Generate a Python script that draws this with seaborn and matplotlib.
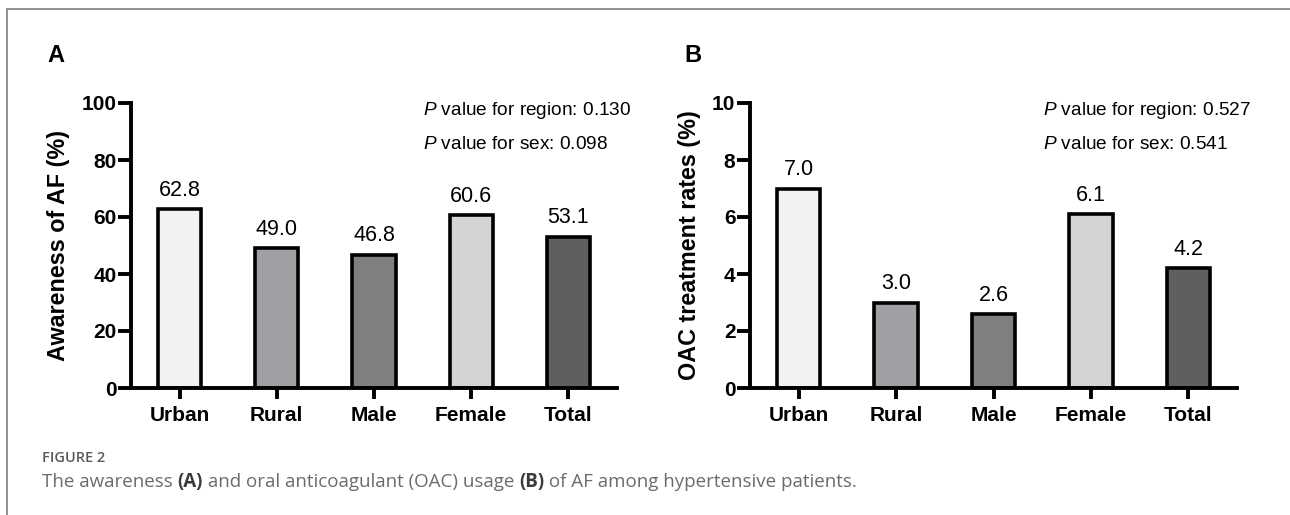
import matplotlib
matplotlib.use("Agg")
import matplotlib.pyplot as plt
import seaborn as sns
from matplotlib.lines import Line2D

categories = ["Urban", "Rural", "Male", "Female", "Total"]
awareness = [62.8, 49.0, 46.8, 60.6, 53.1]
oac_rates = [7.0, 3.0, 2.6, 6.1, 4.2]
bar_colors = ["#f2f2f2", "#a0a0a4", "#808080", "#d4d4d4", "#5f5f5f"]
p_text_a = ["0.130", "0.098"]
p_text_b = ["0.527", "0.541"]

sns.set_theme(style="ticks")
plt.rcParams["font.family"] = ["Liberation Sans", "DejaVu Sans"]
plt.rcParams["mathtext.fontset"] = "custom"
plt.rcParams["mathtext.it"] = "Liberation Sans:italic"
plt.rcParams["mathtext.rm"] = "Liberation Sans"

W, H = 1290, 515
fig = plt.figure(figsize=(W / 100, H / 100), dpi=100)
fig.patch.set_facecolor("white")


def fx(px):
    return px / W


def fy(py):
    return 1 - py / H


panels = [
    dict(left=131, right=617, values=awareness, ymax=100, yticks=[0, 20, 40, 60, 80, 100],
         ylabel="Awareness of AF (%)", letter="A", letter_x=47, ylab_x=59, ptxt=p_text_a),
    dict(left=750, right=1237, values=oac_rates, ymax=10, yticks=[0, 2, 4, 6, 8, 10],
         ylabel="OAC treatment rates (%)", letter="B", letter_x=684, ylab_x=690, ptxt=p_text_b),
]

top_px, bot_px = 103, 388
for p in panels:
    ax = fig.add_axes([fx(p["left"]), fy(bot_px), (p["right"] - p["left"]) / W, (bot_px - top_px) / H])
    ax.set_facecolor("white")
    sns.barplot(x=categories, y=p["values"], hue=categories, palette=bar_colors, legend=False,
                edgecolor="black", linewidth=2.6, width=0.445, saturation=1, ax=ax)
    ax.set_xlim(-0.5, 4.5)
    ax.set_ylim(0, p["ymax"])
    ax.set_yticks(p["yticks"])
    ax.set_yticklabels([str(t) for t in p["yticks"]], fontsize=15, fontweight="bold")
    ax.set_xticks(range(len(categories)))
    ax.set_xticklabels(categories, fontsize=15, fontweight="bold")
    for s in ["top", "right"]:
        ax.spines[s].set_visible(False)
    for s in ["left", "bottom"]:
        ax.spines[s].set_linewidth(2.8)
        ax.spines[s].set_color("black")
    ax.tick_params(axis="y", length=9.5, width=2.8, color="black", labelcolor="black", pad=1)
    ax.tick_params(axis="x", length=8, width=2.8, color="black", labelcolor="black", pad=5)
    ax.set_xlabel("")
    ax.set_ylabel("")
    for i, v in enumerate(p["values"]):
        ax.annotate(f"{v:.1f}", xy=(i, v), xytext=(0, 6), textcoords="offset points",
                    ha="center", va="bottom", fontsize=15.5, color="black")
    ax.text(0.601, 0.975, r"$\it{P}$ value for region: " + p["ptxt"][0], transform=ax.transAxes,
            ha="left", va="center", fontsize=13.7, color="black")
    ax.text(0.601, 0.855, r"$\it{P}$ value for sex: " + p["ptxt"][1], transform=ax.transAxes,
            ha="left", va="center", fontsize=13.7, color="black")
    fig.text(fx(p["ylab_x"]), fy((top_px + bot_px) / 2), p["ylabel"], rotation=90,
             ha="center", va="center", fontsize=16.8, fontweight="bold", color="black")
    fig.text(fx(p["letter_x"]), fy(56), p["letter"], ha="left", va="center",
             fontsize=17, fontweight="bold", color="black")

# frame lines
fig.add_artist(Line2D([fx(7), 1.0], [fy(9), fy(9)], color="#8a8a8a", linewidth=1.3))
fig.add_artist(Line2D([fx(7), fx(7)], [fy(9), 0.0], color="#8a8a8a", linewidth=1.3))

# caption
fig.text(fx(42), fy(458), "FIGURE 2", ha="left", va="center", fontsize=10.5,
         fontweight="semibold", color="#5a5a5a", family=["Open Sans", "DejaVu Sans"])

segments = [
    ("The awareness ", "normal", "#6b6b6b"),
    ("(A)", "bold", "#3a3a3a"),
    (" and oral anticoagulant (OAC) usage ", "normal", "#6b6b6b"),
    ("(B)", "bold", "#3a3a3a"),
    (" of AF among hypertensive patients.", "normal", "#6b6b6b"),
]
renderer = fig.canvas.get_renderer()
x_px = 42
for txt, wt, col in segments:
    t = fig.text(fx(x_px), fy(482), txt, ha="left", va="center", fontsize=13.5,
                 fontweight=wt, color=col, family=["Open Sans", "DejaVu Sans"])
    bb = t.get_window_extent(renderer=renderer)
    x_px += bb.width

fig.savefig("out.png", dpi=100, facecolor="white")
